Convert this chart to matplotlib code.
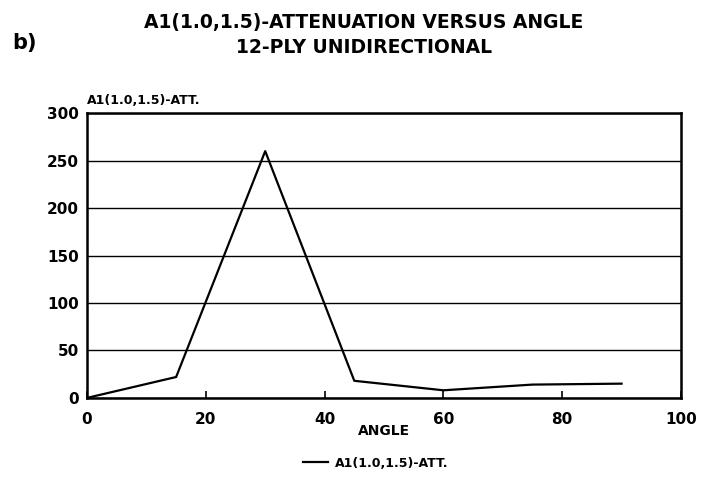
import matplotlib
matplotlib.use("Agg")
import matplotlib.pyplot as plt

angle = [0, 15, 30, 45, 60, 75, 90]
att = [0, 22, 260, 18, 8, 14, 15]
xticks = [0, 20, 40, 60, 80, 100]
yticks = [0, 50, 100, 150, 200, 250, 300]

plt.rcParams['font.family'] = ['DejaVu Sans']
fig = plt.figure(figsize=(7.02, 4.90), dpi=100)
ax = fig.add_axes([0.124, 0.188, 0.846, 0.581])
ax.plot(angle, att, color='black', lw=1.6, label='A1(1.0,1.5)-ATT.')
ax.set_xlim(0, 100)
ax.set_ylim(0, 300)
ax.set_xticks(xticks)
ax.set_yticks(yticks)
ax.yaxis.grid(True, color='black', lw=1.0)
ax.set_axisbelow(True)
for s in ax.spines.values():
    s.set_linewidth(1.8)
ax.tick_params(axis='x', direction='in', length=5, width=1.2, labelsize=11, pad=10)
ax.tick_params(axis='y', length=0, labelsize=11, pad=6)
for lab in ax.get_xticklabels() + ax.get_yticklabels():
    lab.set_fontweight('bold')
ax.set_xlabel('ANGLE', fontsize=10, fontweight='bold', labelpad=-2)
ax.text(0.0, 1.02, 'A1(1.0,1.5)-ATT.', transform=ax.transAxes, fontsize=9,
        fontweight='bold', ha='left', va='bottom')

fig.text(0.518, 0.955, 'A1(1.0,1.5)-ATTENUATION VERSUS ANGLE', fontsize=13.5,
         fontweight='bold', ha='center', va='center')
fig.text(0.518, 0.903, '12-PLY UNIDIRECTIONAL', fontsize=13.5,
         fontweight='bold', ha='center', va='center')
fig.text(0.017, 0.912, 'b)', fontsize=15, fontweight='bold', ha='left', va='center')

leg = fig.legend(loc='center', bbox_to_anchor=(0.535, 0.055), frameon=False,
                 fontsize=9, handlelength=2.0, handletextpad=0.5)
for t in leg.get_texts():
    t.set_fontweight('bold')

fig.savefig('out.png', dpi=100)
